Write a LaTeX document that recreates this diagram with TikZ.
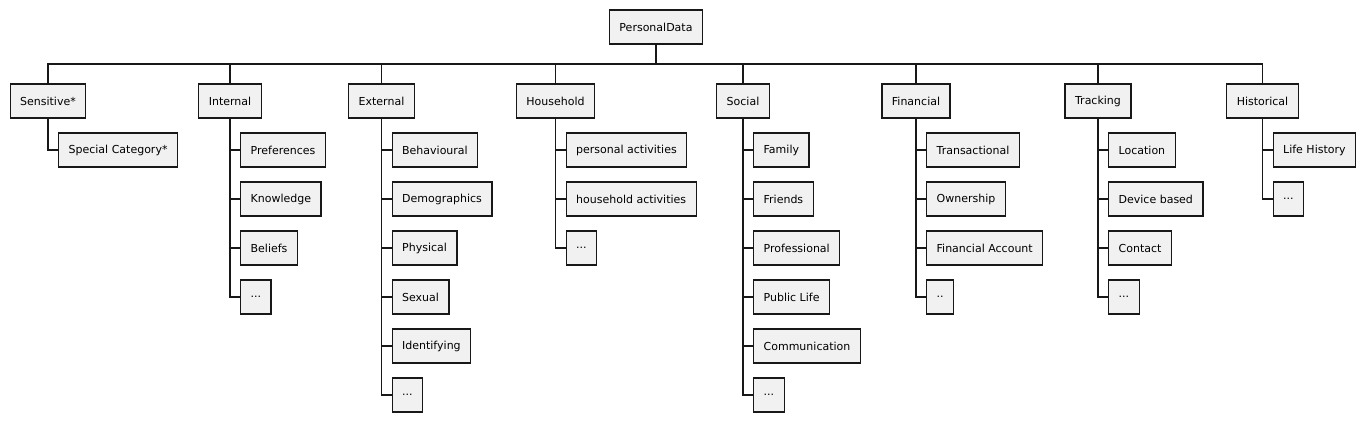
\documentclass[tikz,border=0pt]{standalone}
\usepackage{fontspec}
\setmainfont{DejaVu Sans}
\definecolor{boxfill}{HTML}{F1F1F1}
\definecolor{boxline}{HTML}{181818}

\begin{document}
\begin{tikzpicture}[
	x=1pt, y=-1pt,
	box/.style={ draw=boxline, fill=boxfill, line width=1.3pt, inner xsep=10pt, inner ysep=0pt, minimum height=34pt, font=\fontsize{11}{13}\selectfont },
	leaf/.style={ box, anchor=west },
	wire/.style={ draw=boxline, line width=1.3pt }
]
\useasboundingbox (0,0) rectangle (1367,423);

\node at (656,27) (root) [box] {PersonalData};
\coordinate (bus) at (656,64);
\draw [wire] (root) to (bus);

\node at (48,101) (sensitive) [box] {Sensitive*};
\node at (230,101) (internal) [box] {Internal};
\node at (381.5,101) (external) [box] {External};
\node at (555.5,101) (household) [box] {Household};
\node at (743,101) (social) [box] {Social};
\node at (916,101) (financial) [box] {Financial};
\node at (1098,101) (tracking) [box] {Tracking};
\node at (1262.5,101) (historical) [box] {Historical};
\draw [wire] (sensitive.north) |- (bus);
\draw [wire] (internal.north) |- (bus);
\draw [wire] (external.north) |- (bus);
\draw [wire] (household.north) |- (bus);
\draw [wire] (social.north) |- (bus);
\draw [wire] (financial.north) |- (bus);
\draw [wire] (tracking.north) |- (bus);
\draw [wire] (historical.north) |- (bus);

\node at (58,150) (special) [leaf] {Special Category*};
\draw [wire] (sensitive.south) |- (special.west);

\node at (240,150) (preferences) [leaf] {Preferences};
\node at (240,199) (knowledge) [leaf] {Knowledge};
\node at (240,248) (beliefs) [leaf] {Beliefs};
\node at (240,297) (internalmore) [leaf] {...};
\draw [wire] (internal.south) |- (preferences.west);
\draw [wire] (internal.south) |- (knowledge.west);
\draw [wire] (internal.south) |- (beliefs.west);
\draw [wire] (internal.south) |- (internalmore.west);

\node at (391.5,150) (behavioural) [leaf] {Behavioural};
\node at (391.5,199) (demographics) [leaf] {Demographics};
\node at (391.5,248) (physical) [leaf] {Physical};
\node at (391.5,297) (sexual) [leaf] {Sexual};
\node at (391.5,346) (identifying) [leaf] {Identifying};
\node at (391.5,395) (externalmore) [leaf] {...};
\draw [wire] (external.south) |- (behavioural.west);
\draw [wire] (external.south) |- (demographics.west);
\draw [wire] (external.south) |- (physical.west);
\draw [wire] (external.south) |- (sexual.west);
\draw [wire] (external.south) |- (identifying.west);
\draw [wire] (external.south) |- (externalmore.west);

\node at (565.5,150) (personal) [leaf] {personal activities};
\node at (565.5,199) (householdact) [leaf] {household activities};
\node at (565.5,248) (householdmore) [leaf] {...};
\draw [wire] (household.south) |- (personal.west);
\draw [wire] (household.south) |- (householdact.west);
\draw [wire] (household.south) |- (householdmore.west);

\node at (753,150) (family) [leaf] {Family};
\node at (753,199) (friends) [leaf] {Friends};
\node at (753,248) (professional) [leaf] {Professional};
\node at (753,297) (publiclife) [leaf] {Public Life};
\node at (753,346) (communication) [leaf] {Communication};
\node at (753,395) (socialmore) [leaf] {...};
\draw [wire] (social.south) |- (family.west);
\draw [wire] (social.south) |- (friends.west);
\draw [wire] (social.south) |- (professional.west);
\draw [wire] (social.south) |- (publiclife.west);
\draw [wire] (social.south) |- (communication.west);
\draw [wire] (social.south) |- (socialmore.west);

\node at (926,150) (transactional) [leaf] {Transactional};
\node at (926,199) (ownership) [leaf] {Ownership};
\node at (926,248) (account) [leaf] {Financial Account};
\node at (926,297) (financialmore) [leaf] {..};
\draw [wire] (financial.south) |- (transactional.west);
\draw [wire] (financial.south) |- (ownership.west);
\draw [wire] (financial.south) |- (account.west);
\draw [wire] (financial.south) |- (financialmore.west);

\node at (1108,150) (location) [leaf] {Location};
\node at (1108,199) (device) [leaf] {Device based};
\node at (1108,248) (contact) [leaf] {Contact};
\node at (1108,297) (trackingmore) [leaf] {...};
\draw [wire] (tracking.south) |- (location.west);
\draw [wire] (tracking.south) |- (device.west);
\draw [wire] (tracking.south) |- (contact.west);
\draw [wire] (tracking.south) |- (trackingmore.west);

\node at (1272.5,150) (lifehistory) [leaf] {Life History};
\node at (1272.5,199) (historicalmore) [leaf] {...};
\draw [wire] (historical.south) |- (lifehistory.west);
\draw [wire] (historical.south) |- (historicalmore.west);

\end{tikzpicture}
\end{document}
